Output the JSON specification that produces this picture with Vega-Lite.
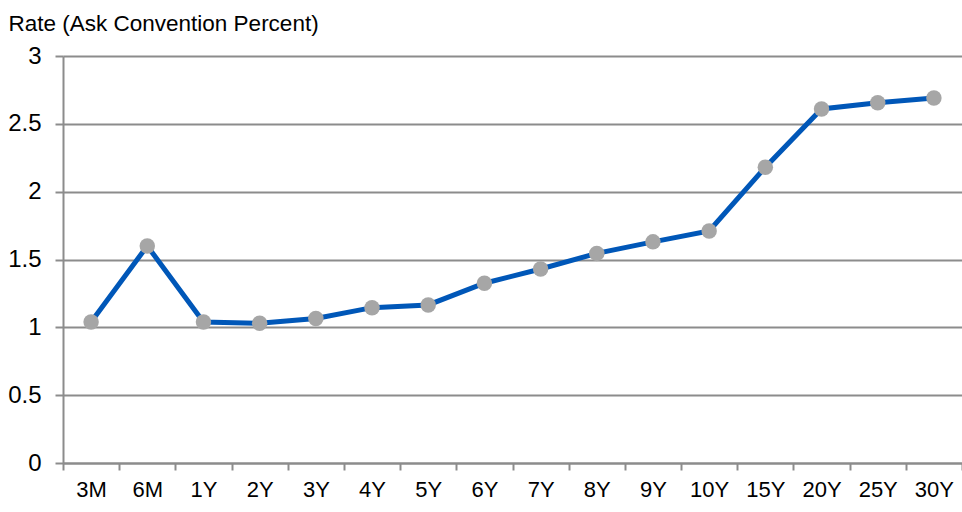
{
  "$schema": "https://vega.github.io/schema/vega-lite/v6.json",
  "width": 899,
  "height": 407,
  "autosize": {"type": "none"},
  "padding": {"left": 63, "top": 56, "right": 0, "bottom": 49},
  "background": "white",
  "config": {
    "view": {"stroke": null},
    "font": "Arial Narrow, Liberation Sans Narrow, Liberation Sans, Arial, sans-serif"
  },
  "data": {
    "values": [
      {"tenor": "3M", "rate": 1.04},
      {"tenor": "6M", "rate": 1.60},
      {"tenor": "1Y", "rate": 1.04},
      {"tenor": "2Y", "rate": 1.03},
      {"tenor": "3Y", "rate": 1.065},
      {"tenor": "4Y", "rate": 1.145},
      {"tenor": "5Y", "rate": 1.165},
      {"tenor": "6Y", "rate": 1.325},
      {"tenor": "7Y", "rate": 1.43},
      {"tenor": "8Y", "rate": 1.545},
      {"tenor": "9Y", "rate": 1.63},
      {"tenor": "10Y", "rate": 1.71},
      {"tenor": "15Y", "rate": 2.18},
      {"tenor": "20Y", "rate": 2.61},
      {"tenor": "25Y", "rate": 2.655},
      {"tenor": "30Y", "rate": 2.69}
    ]
  },
  "encoding": {
    "x": {
      "field": "tenor",
      "type": "ordinal",
      "sort": null,
      "scale": {"type": "band", "paddingInner": 0, "paddingOuter": 0},
      "axis": {
        "title": null,
        "labelAngle": 0,
        "labelFontSize": 22,
        "labelColor": "#000000",
        "labelPadding": 9,
        "tickBand": "extent",
        "tickSize": 7,
        "tickColor": "#8c8c8c",
        "tickWidth": 2,
        "domainColor": "#8c8c8c",
        "domainWidth": 2,
        "grid": false
      }
    },
    "y": {
      "field": "rate",
      "type": "quantitative",
      "scale": {"domain": [0, 3], "nice": false, "zero": true},
      "axis": {
        "values": [0, 0.5, 1, 1.5, 2, 2.5, 3],
        "format": "~g",
        "title": "Rate (Ask Convention Percent)",
        "titleAngle": 0,
        "titleAlign": "left",
        "titleBaseline": "alphabetic",
        "titleX": -55,
        "titleY": -26,
        "titleFontSize": 22.5,
        "titleFontWeight": "normal",
        "titleColor": "#000000",
        "labelFontSize": 24,
        "labelColor": "#000000",
        "labelPadding": 14,
        "tickSize": 8,
        "tickColor": "#8c8c8c",
        "tickWidth": 2,
        "domainColor": "#8c8c8c",
        "domainWidth": 2,
        "grid": true,
        "gridColor": "#8c8c8c",
        "gridWidth": 2
      }
    }
  },
  "layer": [
    {"mark": {"type": "line", "color": "#0057b8", "strokeWidth": 5}},
    {"mark": {"type": "point", "filled": true, "color": "#a6a6a6", "opacity": 1, "size": 240}}
  ]
}
